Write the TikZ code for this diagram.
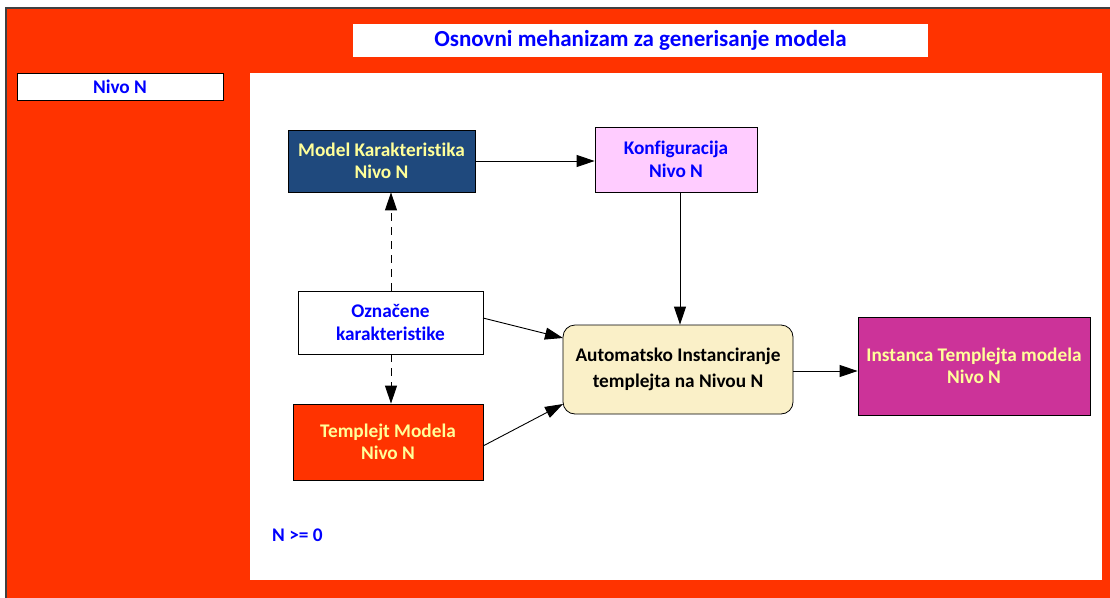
\documentclass[tikz,border=0pt]{standalone}
\usepackage{fontspec}
\setmainfont[Ligatures=NoCommon]{Carlito}
\usetikzlibrary{arrows.meta}
\definecolor{outred}{RGB}{255,51,0}
\definecolor{mkblue}{RGB}{31,73,125}
\definecolor{txtyellow}{RGB}{255,255,153}
\definecolor{txtblue}{RGB}{0,0,255}
\definecolor{konfpink}{RGB}{255,204,255}
\definecolor{autocream}{RGB}{250,240,200}
\definecolor{instmag}{RGB}{204,51,153}
\begin{document}
\begin{tikzpicture}[x=1pt,y=-1pt,
  txt/.style={font=\bfseries\fontsize{19.3}{22.5}\selectfont},
  box/.style={draw=black,line width=0.8pt,align=center,txt,inner sep=0pt},
  conn/.style={line width=0.9pt,-{Triangle[length=18pt,width=12pt]}},
  dconn/.style={conn,dash pattern=on 8pt off 6pt}]
\useasboundingbox (0,0) rectangle (1110,597);
\fill[white] (0,0) rectangle (1110,597);
\filldraw[fill=outred,draw=black!75,line width=1.5pt] (6,8) rectangle (1114,601);
\fill[white] (250,73) rectangle (1102,580);
\node[fill=white,minimum width=575pt,minimum height=33pt,inner sep=0pt,text=txtblue,font=\bfseries\fontsize{23}{27}\selectfont] (title) at (640.5,40.5) {Osnovni mehanizam za generisanje modela};
\node[fill=white,draw=black,line width=0.8pt,minimum width=206pt,minimum height=27pt,inner sep=0pt,text=txtblue,txt] (nivo) at (120,86.5) {Nivo N};
\node[box,fill=mkblue,text=txtyellow,minimum width=187pt,minimum height=62pt] (mk) at (381.5,161) {Model Karakteristika\\Nivo N};
\node[box,fill=konfpink,text=txtblue,minimum width=162pt,minimum height=65pt] (konf) at (676,159.5) {Konfiguracija\\Nivo N};
\node[box,fill=white,text=txtblue,minimum width=185pt,minimum height=63pt] (ozn) at (390.5,322.5) {Označene\\karakteristike};
\node[box,fill=outred,text=txtyellow,minimum width=190pt,minimum height=76pt] (tmp) at (388,442) {Templejt Modela\\Nivo N};
\node[box,fill=autocream,text=black,rounded corners=12pt,minimum width=230pt,minimum height=89pt,font=\bfseries\fontsize{19.3}{26}\selectfont] (auto) at (678,369.5) {Automatsko Instanciranje\\templejta na Nivou N};
\node[box,fill=instmag,text=txtyellow,minimum width=232pt,minimum height=98pt] (inst) at (974,366) {Instanca Templejta modela\\Nivo N};
\node[text=txtblue,txt,anchor=west,inner sep=0pt] (ngeq) at (272,535) {N >= 0};
\draw[conn] (mk.east) -- (konf.west |- mk.east);
\draw[conn] (konf.south -| 680,0) -- (auto.north -| 680,0);
\coordinate (a1) at (563,338);
\coordinate (a2) at (563,404);
\coordinate (o1) at (483,318);
\coordinate (t1) at (483,446);
\draw[conn] (o1) -- (a1);
\draw[conn] (t1) -- (a2);
\draw[conn] (auto.east |- 0,371) -- (inst.west |- 0,371);
\draw[dconn] (ozn.north -| 391,0) -- (mk.south -| 391,0);
\draw[dconn] (ozn.south -| 391,0) -- (tmp.north -| 391,0);
\end{tikzpicture}
\end{document}
